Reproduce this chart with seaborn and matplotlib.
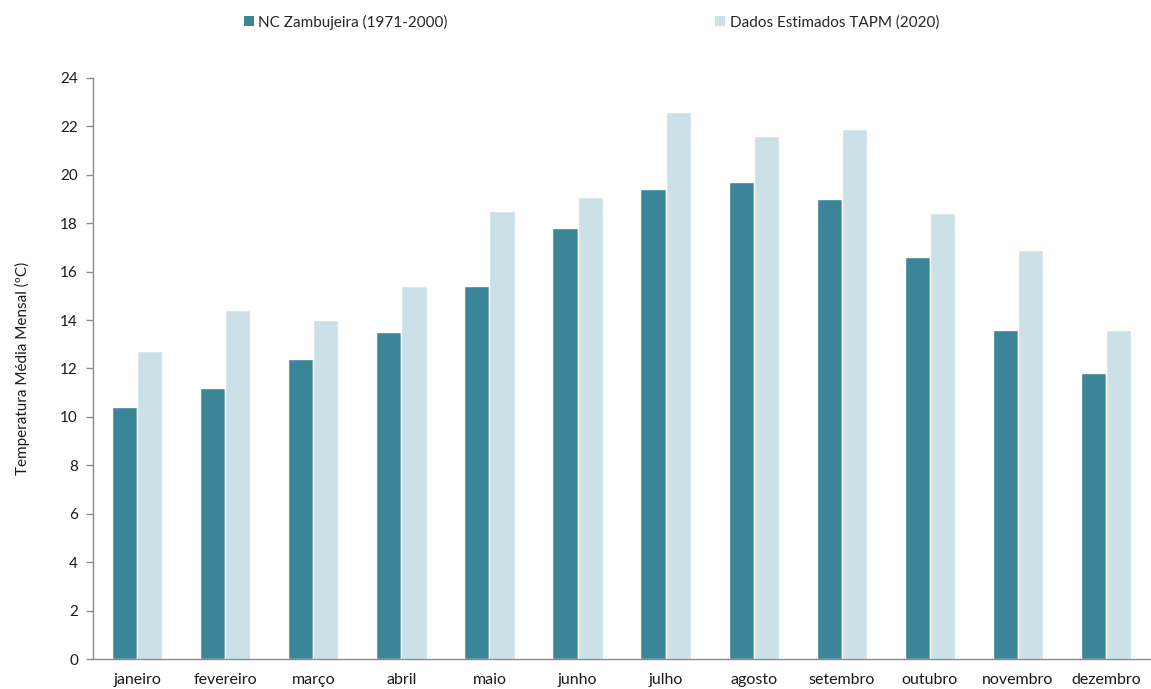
import numpy as np
import pandas as pd
import matplotlib
matplotlib.use("Agg")
import matplotlib.pyplot as plt
from matplotlib.patches import Patch
import seaborn as sns

months = ["janeiro", "fevereiro", "março", "abril", "maio", "junho",
          "julho", "agosto", "setembro", "outubro", "novembro", "dezembro"]
series_names = ["NC Zambujeira (1971-2000)", "Dados Estimados TAPM (2020)"]
normal_zambujeira = [10.4, 11.2, 12.4, 13.5, 15.4, 17.8, 19.4, 19.7, 19.0, 16.6, 13.6, 11.8]
tapm_2020 = [12.7, 14.4, 14.0, 15.4, 18.5, 19.1, 22.6, 21.6, 21.9, 18.4, 16.9, 13.6]
y_ticks = list(range(0, 25, 2))
colors = ["#3A8597", "#CCE0E8"]

df = pd.DataFrame({
    "mes": months * 2,
    "serie": [series_names[0]] * 12 + [series_names[1]] * 12,
    "temp": normal_zambujeira + tapm_2020,
})

sns.set_style("white")
plt.rcParams["font.family"] = ["Lato", "DejaVu Sans"]

fig = plt.figure(figsize=(11.51, 6.89), dpi=100)
ax = fig.add_axes([0.081, 0.0435, 0.918, 0.8435])

sns.barplot(data=df, x="mes", y="temp", hue="serie", order=months,
            hue_order=series_names, palette=colors, width=0.57,
            saturation=1, ax=ax, legend=False)

ax.set_ylim(0, 24)
ax.set_xlim(-0.5, 11.5)
ax.set_yticks(y_ticks)
ax.set_yticklabels([str(t) for t in y_ticks], fontsize=11, color="#1a1a1a")
ax.set_xticks(range(12))
ax.set_xticklabels(months, fontsize=11.5, color="#1a1a1a")
ax.set_xticks(np.arange(-0.5, 12, 1), minor=True)
ax.tick_params(axis="x", which="major", length=0, pad=10)
ax.tick_params(axis="x", which="minor", length=5, color="#8c8c8c", width=1)
ax.tick_params(axis="y", length=5, color="#8c8c8c", width=1, pad=6, left=True)
ax.set_xlabel("")
ax.set_ylabel("Temperatura Média Mensal (ºC)", fontsize=11, color="#1a1a1a", labelpad=22)

for side in ["top", "right"]:
    ax.spines[side].set_visible(False)
for side in ["left", "bottom"]:
    ax.spines[side].set_color("#8c8c8c")
    ax.spines[side].set_linewidth(1)

handles = [Patch(facecolor=c, edgecolor="none") for c in colors]
fig.legend(handles, series_names, loc="center", bbox_to_anchor=(0.514, 0.968),
           ncol=2, frameon=False, fontsize=11, handlelength=0.65,
           handleheight=0.65, handletextpad=0.3, columnspacing=17.5)

fig.savefig("out.png", dpi=100)
